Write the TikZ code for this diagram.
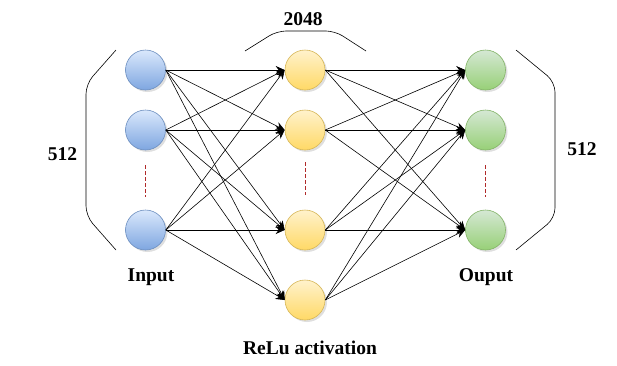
\documentclass[tikz,border=0pt]{standalone}
\usepackage{fontspec}
\setmainfont{Liberation Serif}
\usetikzlibrary{arrows.meta,shadows}

\definecolor{inedge}{HTML}{6C8EBF}
\definecolor{intop}{HTML}{DAE8FC}
\definecolor{inbot}{HTML}{7EA6E0}
\definecolor{hidedge}{HTML}{D6B656}
\definecolor{hidtop}{HTML}{FFF2CC}
\definecolor{hidbot}{HTML}{FFD966}
\definecolor{outedge}{HTML}{82B366}
\definecolor{outtop}{HTML}{D5E8D4}
\definecolor{outbot}{HTML}{97D077}
\definecolor{dotred}{HTML}{B02A2A}

\tikzset{
  neuron/.style={circle,minimum size=40pt,inner sep=0pt,line width=0.6pt,
    drop shadow={opacity=0.25,shadow xshift=2pt,shadow yshift=-2pt,fill=gray}},
  inunit/.style={neuron,draw=inedge,top color=intop,bottom color=inbot},
  hidunit/.style={neuron,draw=hidedge,top color=hidtop,bottom color=hidbot},
  outunit/.style={neuron,draw=outedge,top color=outtop,bottom color=outbot},
  link/.style={line width=0.6pt,-{Stealth[length=9pt,width=8pt]}},
  gap/.style={dotred,line width=0.9pt,dash pattern=on 3.5pt off 2.5pt},
  brace/.style={line width=0.6pt,rounded corners=10pt},
  lbl/.style={font=\fontsize{19.5}{21}\selectfont\bfseries}
}

\begin{document}
\begin{tikzpicture}[x=1pt,y=-1pt]
  \useasboundingbox (0,0) rectangle (617,365);

  % layers
  \foreach \i/\y in {1/70,2/130,3/230} {
    \node[inunit] (in\i) at (145.5,\y) {};
    \node[outunit] (out\i) at (485.5,\y) {};
  }
  \foreach \j/\y in {1/70,2/130,3/230,4/300}
    \node[hidunit] (hid\j) at (305,\y) {};

  % weights
  \foreach \i in {1,2,3}
    \foreach \j in {1,2,3,4} {
      \draw[link] (in\i.east) -- (hid\j.west);
      \draw[link] (hid\j.east) -- (out\i.west);
    }

  % skipped units
  \draw[gap] ([yshift=-15pt]in2.south) -- ([yshift=13pt]in3.north);
  \draw[gap] ([yshift=-12pt]hid2.south) -- ([yshift=15pt]hid3.north);
  \draw[gap] ([yshift=-15pt]out2.south) -- ([yshift=13pt]out3.north);

  % brackets
  \draw[brace] (116,50) -- (86,84) -- (86,216) -- (116,250);
  \draw[brace] (516,50) -- (555,82) -- (555,218) -- (516,250);
  \draw[brace,rounded corners=9pt] (245,51) -- (277,31) -- (335,31) -- (366,51);

  \node[lbl] (nin) at (62.5,154) {512};
  \node[lbl] (nout) at (582,149) {512};
  \node[lbl] (nhid) at (303,19) {2048};
  \node[lbl] (lin) at (151,277) {Input};
  \node[lbl] (lout) at (486,277) {Ouput};
  \node[lbl] (lhid) at (310,348) {ReLu activation};
\end{tikzpicture}
\end{document}
